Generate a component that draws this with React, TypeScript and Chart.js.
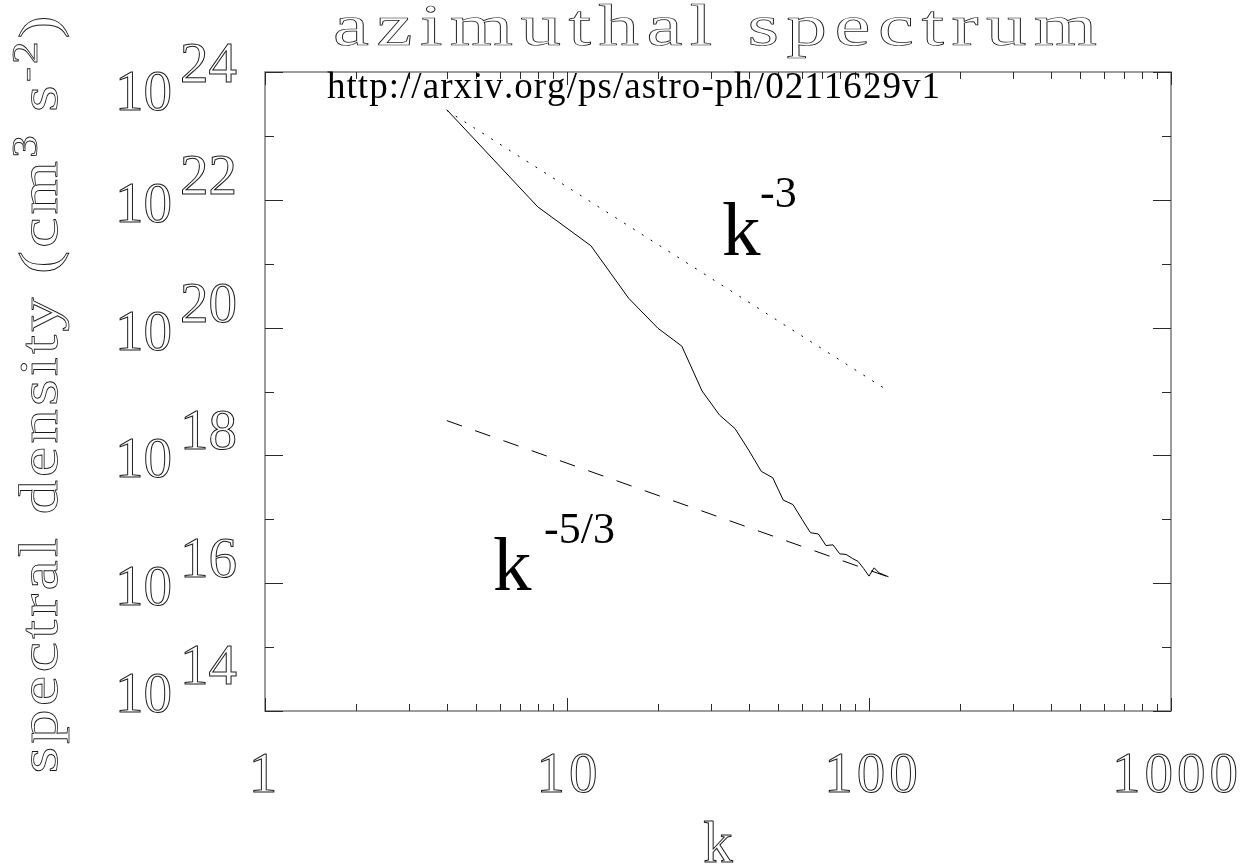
import React, { useEffect, useRef } from "react";
import { Chart, registerables } from "chart.js";

Chart.register(...registerables);

// Azimuthal kinetic-energy spectrum, sampled every 4 in wavenumber k
const WAVENUMBERS = [
  4, 8, 12, 16, 20, 24, 28, 32, 36, 40, 44, 48, 52, 56, 60, 64, 68, 72, 76, 80,
  84, 88, 92, 96, 100, 104, 108, 112, 116,
];
const SPECTRAL_DENSITY = [
  2.57e23, 7.76e21, 1.91e21, 2.88e20, 9.77e19, 5.13e19, 1.02e19, 4.27e18,
  2.63e18, 1.2e18, 5.62e17, 4.47e17, 2.0e17, 1.7e17, 1.0e17, 6.17e16, 5.89e16,
  3.89e16, 3.98e16, 2.88e16, 2.82e16, 2.45e16, 2.19e16, 1.7e16, 1.29e16,
  1.74e16, 1.45e16, 1.35e16, 1.26e16,
];

// Reference power laws (end points)
const SLOPE_K = [4, 116];
const SLOPE_MINUS_3 = [2.5e23, 1.02e19];
const SLOPE_MINUS_5_3 = [3.5e18, 1.25e16];

// Axes
const X_MIN = 1;
const X_MAX = 1000;
const Y_MIN = 1e14;
const Y_MAX = 1e24;
const X_TICKS = [1, 10, 100, 1000];
const X_TICK_LABELS = ["1", "10", "100", "1000"];
const Y_TICK_EXPONENTS = [14, 16, 18, 20, 22, 24];

// Text
const TITLE = "azimuthal spectrum";
const X_TITLE = "k";
const Y_TITLE_RUNS = [
  { text: "spectral density (cm", sup: false },
  { text: "3", sup: true },
  { text: " s", sup: false },
  { text: "-2", sup: true },
  { text: ")", sup: false },
];
const SOURCE_NOTE = "http://arxiv.org/ps/astro-ph/0211629v1";
const LAW_STEEP = { base: "k", exp: "-3" };
const LAW_KOLMOGOROV = { base: "k", exp: "-5/3" };

const SERIF = "'Liberation Serif', 'DejaVu Serif', serif";

type Run = { text: string; size: number; rise: number };

function runsNaturalWidth(ctx: CanvasRenderingContext2D, runs: Run[]) {
  let w = 0;
  let n = 0;
  for (const r of runs) {
    ctx.font = `${r.size}px ${SERIF}`;
    for (const ch of r.text) {
      w += ctx.measureText(ch).width;
      n++;
    }
  }
  return { w, n };
}

// Draw runs char by char, glyphs widened by sx, with a uniform extra gap.
function drawRuns(
  ctx: CanvasRenderingContext2D,
  runs: Run[],
  x: number,
  y: number,
  spacing: number,
  sx: number,
  mode: "fill" | "stroke"
) {
  let cx = x;
  for (const r of runs) {
    ctx.font = `${r.size}px ${SERIF}`;
    for (const ch of r.text) {
      const w = ctx.measureText(ch).width;
      ctx.save();
      ctx.translate(cx, y - r.rise);
      ctx.scale(sx, 1);
      if (mode === "fill") ctx.fillText(ch, 0, 0);
      else {
        ctx.lineWidth = ctx.lineWidth / sx;
        ctx.strokeText(ch, 0, 0);
      }
      ctx.restore();
      cx += w * sx + spacing;
    }
  }
}

function drawFitted(
  ctx: CanvasRenderingContext2D,
  runs: Run[],
  left: number,
  y: number,
  width: number,
  sx: number,
  mode: "fill" | "stroke"
) {
  const { w, n } = runsNaturalWidth(ctx, runs);
  const spacing = n > 1 ? (width - w * sx) / (n - 1) : 0;
  drawRuns(ctx, runs, left, y, spacing, sx, mode);
}

function drawCentered(
  ctx: CanvasRenderingContext2D,
  text: string,
  size: number,
  cx: number,
  y: number,
  spacing: number,
  mode: "fill" | "stroke"
) {
  const runs = [{ text, size, rise: 0 }];
  const { w, n } = runsNaturalWidth(ctx, runs);
  const total = w + spacing * (n - 1);
  drawRuns(ctx, runs, cx - total / 2, y, spacing, 1, mode);
}

const framePlugin = {
  id: "idlFrame",
  afterDraw(chart: any) {
    const { ctx, chartArea: a, scales } = chart;
    const xs = scales.x;
    const ys = scales.y;
    ctx.save();
    ctx.textAlign = "left";
    ctx.textBaseline = "alphabetic";

    // Plot frame
    ctx.strokeStyle = "#7c7c7c";
    ctx.lineWidth = 1.5;
    ctx.strokeRect(a.left, a.top, a.right - a.left, a.bottom - a.top);

    // Inward ticks on all four sides
    ctx.strokeStyle = "#2a2a2a";
    ctx.lineWidth = 1;
    ctx.beginPath();
    for (let d = 1; d < X_MAX; d *= 10) {
      for (let m = 1; m <= 10; m++) {
        const v = m * d;
        if (v > X_MAX) break;
        const major = m === 1 || m === 10;
        const len = major ? 13 : 7;
        const px = Math.round(xs.getPixelForValue(v)) + 0.5;
        ctx.moveTo(px, a.bottom);
        ctx.lineTo(px, a.bottom - len);
        ctx.moveTo(px, a.top);
        ctx.lineTo(px, a.top + len);
      }
    }
    for (let e = 14; e <= 24; e++) {
      const major = e % 2 === 0;
      const len = major ? 18 : 9;
      const py = Math.round(ys.getPixelForValue(Math.pow(10, e))) + 0.5;
      ctx.moveTo(a.left, py);
      ctx.lineTo(a.left + len, py);
      ctx.moveTo(a.right, py);
      ctx.lineTo(a.right - len, py);
    }
    ctx.stroke();

    // Outlined axis lettering
    ctx.strokeStyle = "#1a1a1a";
    ctx.lineWidth = 1;

    // x tick labels
    X_TICKS.forEach((v, i) => {
      const px = xs.getPixelForValue(v);
      const label = X_TICK_LABELS[i];
      drawCentered(ctx, label, 57, px + (label.length - 2) * 2, a.bottom + 81, 4, "stroke");
    });

    // y tick labels: 10 with raised exponent, kept inside the frame height
    Y_TICK_EXPONENTS.forEach((e) => {
      const py = ys.getPixelForValue(Math.pow(10, e));
      const base = Math.min(Math.max(py + 22, a.top + 38), a.bottom + 1);
      ctx.font = `57px ${SERIF}`;
      const w10 = ctx.measureText("10").width;
      ctx.strokeText("10", a.left - 93 - w10, base);
      ctx.strokeText(String(e), a.left - 85, base - 28);
    });

    // Title
    drawFitted(ctx, [{ text: TITLE, size: 60, rise: 0 }], 333, 45, 764, 1.35, "stroke");

    // x-axis title
    drawCentered(ctx, X_TITLE, 59, (a.left + a.right) / 2, a.bottom + 151, 0, "stroke");

    // y-axis title, rotated to read upward
    ctx.save();
    ctx.translate(57, (a.top + a.bottom) / 2 + 3);
    ctx.rotate(-Math.PI / 2);
    const yRuns = Y_TITLE_RUNS.map((r) => ({
      text: r.text,
      size: r.sup ? 36 : 55,
      rise: r.sup ? 20 : 0,
    }));
    drawFitted(ctx, yRuns, -379, 0, 758, 1.25, "stroke");
    ctx.restore();

    // Source note and power-law annotations
    ctx.fillStyle = "#000";
    drawFitted(ctx, [{ text: SOURCE_NOTE, size: 37, rise: 0 }], 327, 98, 613, 1, "fill");

    ctx.font = `77px ${SERIF}`;
    ctx.fillText(LAW_STEEP.base, 722, 255);
    ctx.font = `44px ${SERIF}`;
    ctx.fillText(LAW_STEEP.exp, 760, 207);

    ctx.font = `77px ${SERIF}`;
    ctx.fillText(LAW_KOLMOGOROV.base, 493, 590);
    ctx.font = `44px ${SERIF}`;
    ctx.fillText(LAW_KOLMOGOROV.exp, 544, 543);

    ctx.restore();
  },
};

export default function App() {
  const canvasRef = useRef<HTMLCanvasElement | null>(null);

  useEffect(() => {
    const canvas = canvasRef.current;
    if (!canvas) return;

    const spectrum = WAVENUMBERS.map((k, i) => ({ x: k, y: SPECTRAL_DENSITY[i] }));
    const steep = SLOPE_K.map((k, i) => ({ x: k, y: SLOPE_MINUS_3[i] }));
    const kolmogorov = SLOPE_K.map((k, i) => ({ x: k, y: SLOPE_MINUS_5_3[i] }));

    const chart = new Chart(canvas, {
      type: "line",
      data: {
        datasets: [
          {
            label: "spectrum",
            data: spectrum,
            borderColor: "#000",
            borderWidth: 1,
            pointRadius: 0,
            tension: 0,
          },
          {
            label: "k^-3",
            data: steep,
            borderColor: "#000",
            borderWidth: 1,
            borderDash: [2, 8.5],
            pointRadius: 0,
          },
          {
            label: "k^-5/3",
            data: kolmogorov,
            borderColor: "#000",
            borderWidth: 1,
            borderDash: [16, 14],
            pointRadius: 0,
          },
        ],
      },
      options: {
        responsive: false,
        maintainAspectRatio: false,
        animation: false,
        devicePixelRatio: 1,
        layout: { padding: { left: 265, right: 70, top: 72, bottom: 156 } },
        scales: {
          x: { type: "logarithmic", min: X_MIN, max: X_MAX, display: false },
          y: { type: "logarithmic", min: Y_MIN, max: Y_MAX, display: false },
        },
        plugins: {
          legend: { display: false },
          tooltip: { enabled: false },
          title: { display: false },
        },
      },
      plugins: [framePlugin],
    });

    return () => chart.destroy();
  }, []);

  return (
    <div
      style={{
        position: "fixed",
        left: 0,
        top: 0,
        width: 1241,
        height: 867,
        background: "#fff",
      }}
    >
      <canvas ref={canvasRef} width={1241} height={867} style={{ width: 1241, height: 867 }} />
    </div>
  );
}
